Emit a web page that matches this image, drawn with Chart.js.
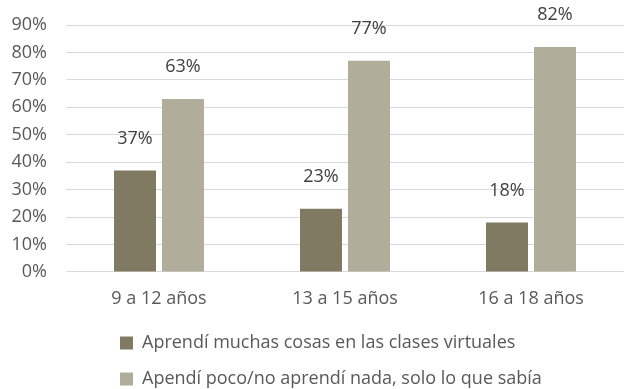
<!DOCTYPE html>
<html>
<head>
<meta charset="utf-8">
<script src="https://cdn.jsdelivr.net/npm/chart.js@4"></script>
<style>
  html, body { margin: 0; padding: 0; background: #fff; }
  #wrap { width: 624px; height: 389px; }
</style>
</head>
<body>
<div id="wrap"><canvas id="chart"></canvas></div>
<script>
const categories = ['9 a 12 años', '13 a 15 años', '16 a 18 años'];
const seriesNames = ['Aprendí muchas cosas en las clases virtuales', 'Apendí poco/no aprendí nada, solo lo que sabía'];
const muchas = [37, 23, 18];
const poco = [63, 77, 82];
const yTicks = [0, 10, 20, 30, 40, 50, 60, 70, 80, 90];

Chart.defaults.font.family = '"Open Sans", "Noto Sans", sans-serif';
Chart.defaults.font.size = 18;
Chart.defaults.color = '#595959';

// value labels drawn a fixed distance above each bar
const valueLabels = {
    id: 'valueLabels',
    afterDatasetsDraw(chart) {
        const ctx = chart.ctx;
        ctx.save();
        ctx.font = '18px "Open Sans", sans-serif';
        ctx.fillStyle = '#404040';
        ctx.textAlign = 'center';
        ctx.textBaseline = 'middle';
        chart.data.datasets.forEach((ds, i) => {
            chart.getDatasetMeta(i).data.forEach((bar, j) => {
                ctx.fillText(ds.data[j] + '%', bar.x, bar.y - 32);
            });
        });
        ctx.restore();
    }
};

// push the left-aligned legend rows in from the edge
const legendIndent = {
    id: 'legendIndent',
    afterLayout(chart) {
        if (chart.legend) chart.legend.left = 102;
    }
};

new Chart(document.getElementById('chart').getContext('2d'), {
    type: 'bar',
    data: {
        labels: categories,
        datasets: [
            { label: seriesNames[0], data: muchas, backgroundColor: '#807a62' },
            { label: seriesNames[1], data: poco, backgroundColor: '#b0ad9a' }
        ]
    },
    options: {
        responsive: true,
        maintainAspectRatio: false,
        animation: false,
        layout: { padding: { left: 0, right: 0, top: 25, bottom: -9 } },
        datasets: { bar: { categoryPercentage: 0.516, barPercentage: 0.875 } },
        scales: {
            x: {
                grid: { display: false },
                border: { color: '#d9d9d9' },
                ticks: { color: '#595959', padding: 8 },
                afterFit: axis => { axis.height -= 1.5; }
            },
            y: {
                min: 0,
                max: 90,
                afterBuildTicks: axis => { axis.ticks = yTicks.map(v => ({ value: v })); },
                afterFit: axis => {
                    axis.width = 66;
                    axis.paddingTop = 0;
                    axis.paddingBottom = 0;
                },
                grid: { color: '#d9d9d9', drawTicks: false },
                border: { display: false },
                ticks: {
                    color: '#595959',
                    padding: 19,
                    callback: v => v + '%'
                }
            }
        },
        plugins: {
            legend: {
                position: 'bottom',
                align: 'start',
                labels: {
                    boxWidth: 13,
                    boxHeight: 13,
                    color: '#595959',
                    padding: 18
                }
            },
            tooltip: { enabled: false }
        }
    },
    plugins: [valueLabels, legendIndent]
});
</script>
</body>
</html>
